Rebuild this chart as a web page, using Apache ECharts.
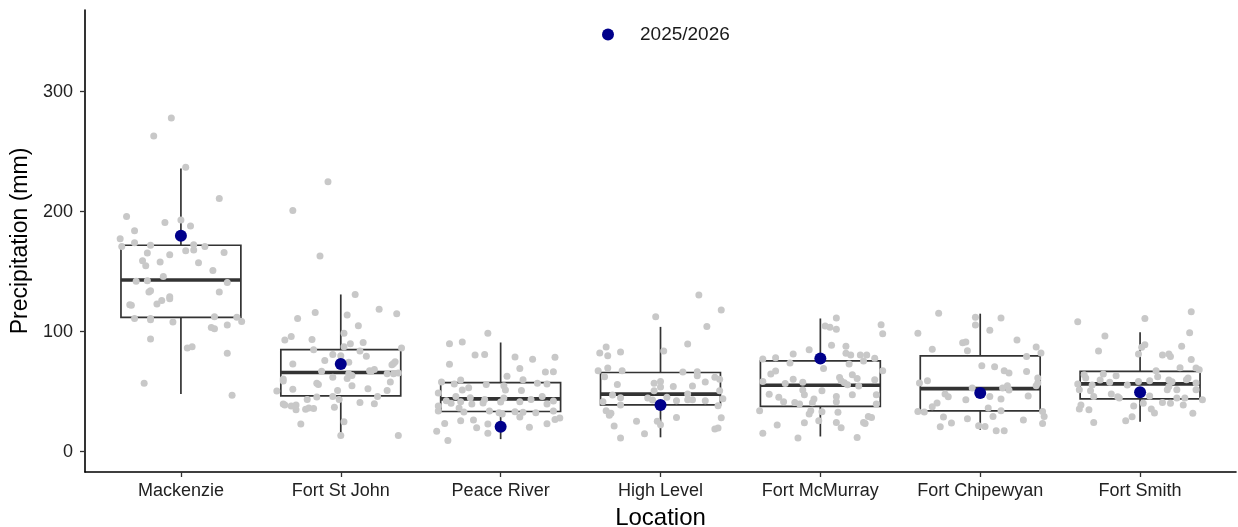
<!DOCTYPE html>
<html>
<head>
<meta charset="utf-8">
<script src="https://cdn.jsdelivr.net/npm/echarts@6/dist/echarts.min.js"></script>
<style>
html,body{margin:0;padding:0;background:#fff;}
#chart{width:1238px;height:527px;}
</style>
</head>
<body>
<div id="chart"></div>
<script>
// ---------- data ----------
const categories = ['Mackenzie','Fort St John','Peace River','High Level','Fort McMurray','Fort Chipewyan','Fort Smith'];
const yTicks = [0, 100, 200, 300];
const legendLabel = '2025/2026';
// box stats per location: [lower whisker, Q1, median, Q3, upper whisker]
const boxStats = [
  [48, 112, 143, 172, 236],
  [14, 46.5, 66, 85, 131],
  [10.5, 33.5, 44, 57.6, 91],
  [12, 39, 48, 66, 104],
  [12.7, 37.7, 55.4, 75.6, 111],
  [18.3, 34, 52.6, 79.8, 115],
  [25, 44, 56.5, 67, 99.5]
];
// 2025/2026 value per location
const currentYear = [180, 73, 20.8, 39, 77.6, 49, 49.6];
// jittered yearly observations: [horizontal jitter, precipitation mm]
const mackenziePts = [[-0.06,278],[-0.17,263],[0.03,237],[0.24,211],[-0.34,196],[-0.10,191],[0.0,193],[0.06,188],[-0.29,184],[-0.38,177.5],[-0.37,171],[-0.29,174],[-0.19,172],[0.08,172.5],[0.15,171],[0.03,167.5],[0.08,168],[0.27,166],[-0.21,165.5],[-0.07,164],[-0.24,159],[-0.22,155],[-0.13,158],[0.11,157.5],[0.20,151],[-0.11,146],[-0.28,142],[-0.21,142.5],[0.29,141],[-0.19,134],[-0.20,133],[0.24,133],[-0.32,122.5],[-0.31,122],[-0.15,123],[-0.12,126],[-0.07,127.5],[-0.07,129],[-0.29,111],[-0.19,111],[-0.19,110],[-0.05,108],[0.21,112.5],[0.35,112],[0.38,108.5],[0.19,103.5],[0.21,102.5],[0.29,105.5],[-0.19,94],[0.04,86.5],[0.07,87.5],[0.29,82],[-0.23,57],[0.32,47]];
const fortStJohnPts = [[-0.08,225],[-0.30,201],[-0.13,163],[0.09,131],[0.24,118.6],[0.35,115],[-0.16,116],[-0.27,111],[0.04,114],[0.11,105],[0.02,98.6],[-0.31,96],[-0.35,93],[-0.18,93.5],[0.06,90],[0.14,91],[0.02,87.5],[0.12,84],[0.16,79.5],[0.38,86.5],[-0.17,85],[-0.05,81],[0.00,80],[-0.10,76],[-0.30,73],[0.05,74.5],[0.34,75],[0.32,72.5],[0.33,73.5],[0.18,67.5],[0.21,68.5],[0.19,67],[-0.12,67],[0.05,65],[0.07,63.5],[0.04,61],[-0.05,62],[0.29,65],[0.33,65],[0.36,65.5],[-0.36,60.5],[-0.36,59],[0.31,58],[-0.15,57],[-0.14,56],[0.07,55],[0.17,52.5],[0.29,51],[-0.40,50.5],[-0.30,52],[-0.02,51],[-0.05,46],[-0.01,43.6],[-0.15,45.5],[0.23,46],[-0.21,43.4],[0.12,41],[0.21,40],[-0.36,39.7],[-0.35,38.9],[-0.31,38],[-0.28,39],[-0.28,35],[-0.22,35.3],[-0.20,36.4],[-0.17,36],[-0.04,37],[-0.25,23],[0.02,25],[0.00,13.6],[0.36,13.6]];
const peaceRiverPts = [[-0.08,98.6],[-0.32,90],[-0.24,91.4],[-0.16,80.6],[-0.10,81],[0.09,79],[0.20,77],[0.34,78.6],[-0.32,72.8],[0.12,69.4],[0.28,66.4],[0.33,66.7],[0.04,62.8],[-0.25,59.7],[-0.37,58],[-0.29,56.4],[-0.09,56],[0.14,60],[0.23,57],[0.29,56.4],[0.02,55],[-0.20,53.3],[-0.24,51.4],[0.03,51.4],[0.13,51],[-0.39,49],[-0.28,46],[-0.19,45],[-0.10,43.6],[0.02,44.7],[0.12,41.7],[0.19,43.6],[0.26,46],[-0.34,42.5],[-0.25,41.7],[-0.18,39.7],[-0.11,40.6],[0.00,41.4],[0.29,39.7],[0.33,42.2],[-0.39,38],[-0.31,40.3],[-0.26,36.4],[-0.23,33],[-0.07,34],[-0.01,32.5],[0.01,31.4],[0.09,33.3],[0.14,32.8],[0.22,32.5],[0.33,34],[-0.39,34],[-0.35,23.6],[-0.25,25.8],[-0.17,26.4],[-0.15,20],[-0.08,23],[-0.08,15.3],[0.12,29],[0.18,20.3],[0.29,23.3],[0.34,26.9],[0.37,28],[-0.40,17],[-0.33,9.4]];
const highLevelPts = [[0.24,130.6],[0.38,118],[-0.03,112.5],[0.29,104.4],[0.17,89.7],[-0.34,87.2],[-0.38,82.2],[-0.33,80],[-0.25,83],[0.02,83.9],[-0.39,67.5],[-0.33,69.7],[-0.24,67.5],[0.14,66.4],[0.23,66.7],[0.23,63.3],[0.34,62],[0.37,60.3],[-0.35,62.5],[-0.27,56],[-0.04,57],[0.00,58.4],[0.00,54],[0.08,54.3],[0.20,54.7],[0.28,58],[0.37,50.8],[-0.04,50.8],[-0.30,47.2],[-0.25,45],[-0.08,44.7],[0.04,45.3],[0.10,42.5],[0.17,48],[0.17,43.3],[0.20,43.3],[0.28,42.5],[0.39,44.2],[-0.36,41.7],[-0.25,38.9],[-0.05,43],[0.36,38.3],[-0.34,34.2],[-0.31,32],[-0.32,30.3],[-0.15,25.3],[-0.02,25.3],[0.00,22.5],[0.10,28.6],[0.38,28.3],[-0.29,21.4],[-0.10,15],[-0.25,11.4],[0.34,18.9],[0.36,19.7]];
const fortMcMurrayPts = [[0.10,111.4],[0.03,104.7],[0.06,103.6],[0.10,102],[0.38,105.8],[0.39,98.3],[0.07,88.6],[0.16,87.8],[-0.07,85],[-0.17,81.4],[0.16,82],[0.19,80.6],[0.25,80.6],[0.29,80.6],[0.27,75.6],[0.34,77.8],[-0.28,78.3],[-0.36,77.2],[-0.19,73.9],[0.18,73],[0.39,67.5],[0.02,69.4],[-0.28,67.2],[-0.31,64.7],[0.12,61.9],[0.20,64.2],[0.23,61],[0.34,60],[-0.36,58.6],[-0.22,56.9],[-0.17,60.3],[-0.11,57.8],[0.13,59.2],[0.15,57.5],[0.17,55.8],[0.24,54.7],[0.01,50.8],[-0.11,51.4],[-0.10,47.5],[-0.32,47.8],[-0.26,45.3],[-0.23,41.7],[-0.16,41.1],[-0.13,39.7],[-0.05,40.8],[-0.04,43.9],[-0.06,34.2],[0.10,46],[0.10,41.7],[0.20,47.5],[0.35,47.5],[0.35,39.7],[-0.38,34.2],[-0.07,31.4],[0.01,33.3],[0.11,32.8],[0.30,29.4],[0.32,28.6],[0.27,24.4],[0.28,23.6],[-0.27,22.2],[-0.10,24.2],[-0.01,25.8],[0.10,24.4],[0.13,20],[-0.36,15.3],[-0.14,11.4],[0.23,11.9]];
const fortChipewyanPts = [[-0.26,115.3],[-0.03,112],[-0.03,105.6],[0.13,111.4],[0.06,101.1],[-0.39,98.6],[-0.11,90.8],[-0.09,91.4],[-0.08,84.2],[0.23,93],[0.35,87.2],[0.38,82.2],[0.29,79.4],[-0.30,85.3],[0.01,71.7],[0.09,70.8],[0.15,67.5],[0.18,65.5],[0.29,66.9],[0.36,61.4],[-0.38,57.2],[-0.33,59.2],[-0.05,53],[0.14,53],[0.17,55],[0.18,51.4],[0.35,55],[0.36,57.2],[-0.22,48],[-0.20,45.8],[-0.09,43.3],[0.06,46.1],[0.13,43.9],[0.30,46.4],[-0.27,40.6],[-0.30,37.5],[-0.39,33.6],[-0.35,33],[0.05,36.4],[0.13,34.2],[0.08,29.4],[0.39,33.6],[0.40,29.4],[-0.23,28.9],[-0.08,27.5],[0.27,26.4],[-0.18,23.9],[-0.25,20.8],[-0.01,21.7],[0.03,21.1],[0.10,17.5],[0.15,17.5],[0.39,23.6]];
const fortSmithPts = [[-0.39,108.3],[0.03,111],[0.32,116.7],[-0.22,96.4],[0.31,99.2],[-0.26,83.9],[-0.01,81.4],[0.01,87],[0.03,89.2],[0.14,80.6],[0.18,81.4],[0.19,79.4],[0.26,87.8],[0.32,76.9],[0.25,70],[0.35,69.7],[0.37,68.3],[0.10,67.5],[0.11,62.5],[-0.35,64.2],[-0.34,61.4],[-0.23,64.7],[-0.25,59.7],[-0.15,63.3],[-0.19,57.8],[-0.01,58.6],[0.06,59.2],[0.18,59.7],[0.20,58.3],[0.29,60],[0.30,61.4],[-0.39,56.4],[-0.38,51.7],[-0.30,55.6],[-0.31,50.8],[-0.08,55.6],[0.17,51.7],[0.18,54.4],[0.23,51.7],[0.35,51.7],[0.35,57.2],[-0.29,46.1],[-0.18,48],[-0.14,45.8],[-0.13,44.7],[0.06,46.4],[0.14,41.1],[0.19,40.3],[0.23,44.7],[0.28,44.7],[0.27,38.9],[0.39,43.3],[-0.37,38.9],[-0.38,35.6],[-0.32,35],[-0.04,38],[0.02,40.3],[0.07,35.6],[0.09,32.2],[0.33,32],[-0.05,29.2],[-0.09,25.8],[-0.29,24.4]];
const observations = [mackenziePts, fortStJohnPts, peaceRiverPts, highLevelPts, fortMcMurrayPts, fortChipewyanPts, fortSmithPts];

// ---------- build series data ----------
const boxData = boxStats.map((s, i) => [i].concat(s));
const jitterData = [];
observations.forEach((pts, i) => pts.forEach(p => jitterData.push([i + p[0], p[1]])));
const currentData = currentYear.map((v, i) => [i, v]);

const FONT = '"Liberation Sans", Arial, sans-serif';
const LINE = '#333333';
const BOX_HALF = 0.375;

const chart = echarts.init(document.getElementById('chart'), null, {renderer: 'canvas'});
chart.setOption({
  animation: false,
  backgroundColor: '#ffffff',
  grid: {left: 85, right: 2, top: 10, bottom: 55, containLabel: false, outerBoundsMode: 'none'},
  legend: {
    show: true,
    data: [legendLabel],
    top: 20, left: 597,
    itemWidth: 12, itemHeight: 12, itemGap: 10,
    icon: 'circle',
    textStyle: {fontFamily: FONT, fontSize: 19, color: '#1a1a1a', padding: [0,0,0,21]},
    selectedMode: false
  },
  xAxis: {
    type: 'value',
    min: -0.6, max: 6.6,
    name: 'Location', nameLocation: 'middle', nameGap: 34,
    nameTextStyle: {fontFamily: FONT, fontSize: 24, color: '#000'},
    axisLine: {show: true, onZero: false, lineStyle: {color: '#000', width: 1.6}},
    axisTick: {show: true, length: 5, lineStyle: {color: '#333', width: 1.3}, customValues: categories.map((c, i) => i)},
    axisLabel: {show: true, fontFamily: FONT, fontSize: 18, color: '#222', margin: 10,
      customValues: categories.map((c, i) => i),
      formatter: v => categories[Math.round(v)] || ''},
    splitLine: {show: false}
  },
  yAxis: {
    type: 'value',
    min: -16.9, max: 368,
    name: 'Precipitation (mm)', nameLocation: 'middle', nameGap: 51,
    nameTextStyle: {fontFamily: FONT, fontSize: 23, color: '#000'},
    axisLine: {show: true, onZero: false, lineStyle: {color: '#000', width: 1.6}},
    axisTick: {show: true, length: 5, lineStyle: {color: '#333', width: 1.3}, customValues: yTicks},
    axisLabel: {show: true, fontFamily: FONT, fontSize: 18, color: '#222', margin: 12, customValues: yTicks},
    splitLine: {show: false}
  },
  series: [
    {
      type: 'custom',
      name: 'box',
      z: 2,
      data: boxData,
      encode: {x: 0, y: [1, 2, 3, 4, 5]},
      renderItem: function (params, api) {
        const i = api.value(0);
        const lo = api.value(1), q1 = api.value(2), med = api.value(3), q3 = api.value(4), hi = api.value(5);
        const tl = api.coord([i - BOX_HALF, q3]);
        const br = api.coord([i + BOX_HALF, q1]);
        const mL = api.coord([i - BOX_HALF, med]);
        const mR = api.coord([i + BOX_HALF, med]);
        const wTop = api.coord([i, hi]);
        const wQ3 = api.coord([i, q3]);
        const wQ1 = api.coord([i, q1]);
        const wLo = api.coord([i, lo]);
        const st = {stroke: LINE, lineWidth: 1.7, fill: null};
        return {
          type: 'group',
          children: [
            {type: 'line', shape: {x1: wTop[0], y1: wTop[1], x2: wQ3[0], y2: wQ3[1]}, style: st},
            {type: 'line', shape: {x1: wQ1[0], y1: wQ1[1], x2: wLo[0], y2: wLo[1]}, style: st},
            {type: 'rect', shape: {x: tl[0], y: tl[1], width: br[0] - tl[0], height: br[1] - tl[1]},
              style: {stroke: LINE, lineWidth: 1.7, fill: '#ffffff'}},
            {type: 'line', shape: {x1: mL[0], y1: mL[1], x2: mR[0], y2: mR[1]}, style: {stroke: LINE, lineWidth: 3.6}}
          ]
        };
      }
    },
    {
      type: 'scatter',
      name: 'years',
      z: 3,
      symbolSize: 7,
      itemStyle: {color: '#c8c8c8', opacity: 1},
      data: jitterData,
      silent: true
    },
    {
      type: 'scatter',
      name: legendLabel,
      z: 4,
      symbolSize: 12,
      itemStyle: {color: '#00008b', opacity: 1},
      data: currentData
    }
  ]
});
</script>
</body>
</html>
